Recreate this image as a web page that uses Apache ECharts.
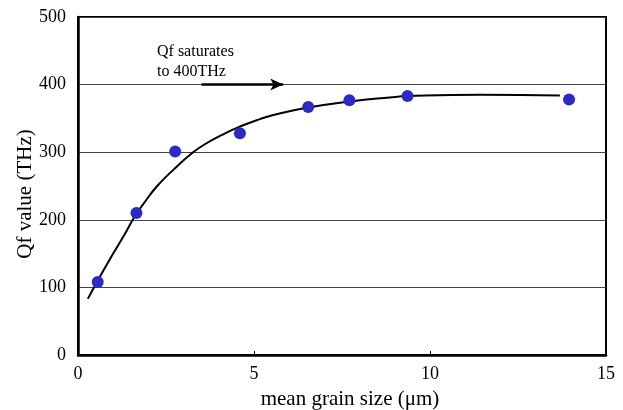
<!DOCTYPE html>
<html>
<head>
<meta charset="utf-8">
<script src="https://cdn.jsdelivr.net/npm/echarts@6/dist/echarts.min.js"></script>
<style>
  html, body { margin: 0; padding: 0; background: #fff; }
  #chart { width: 623px; height: 410px; }
</style>
</head>
<body>
<div id="chart"></div>
<script>
// Measured Qf values against mean grain size
const grainSize = [0.56, 1.66, 2.76, 4.60, 6.54, 7.71, 9.36, 13.95];
const qfValue   = [108, 210, 301, 328, 367, 377, 383, 378];

// Saturation trend curve through the measurements
const fitX = [0.28, 0.55, 0.93, 1.31, 1.59, 1.88, 2.25, 2.73, 3.2, 3.58, 4.22, 4.6, 5.17, 5.55, 6.54, 7.73, 8.86, 9.38, 11.42, 13.69];
const fitY = [83, 109, 144, 177, 203, 225, 250, 275, 297, 311, 329, 338, 349, 355, 366, 375, 381, 383, 385, 384];

// Arrow marking the saturation level
const arrowX = [3.51, 5.83];
const arrowLevel = 400;

const xTicks = [0, 5, 10, 15];
const yTicks = [0, 100, 200, 300, 400, 500];

const serif = '"Liberation Serif", "DejaVu Serif", serif';

const chart = echarts.init(document.getElementById('chart'));

chart.setOption({
  animation: false,
  backgroundColor: '#ffffff',
  grid: {
    left: 78, right: 17, top: 17, bottom: 55,
    outerBoundsMode: 'none',
    show: true,
    borderColor: '#000',
    borderWidth: 2
  },
  xAxis: {
    type: 'value',
    min: xTicks[0], max: xTicks[xTicks.length - 1], interval: 5,
    name: 'mean grain size (μm)',
    nameLocation: 'middle',
    nameGap: 34,
    nameMoveOverlap: false,
    nameTextStyle: { fontFamily: serif, fontSize: 21, color: '#000', padding: [0, 0, 0, 16] },
    axisLine: { show: true, lineStyle: { color: '#000', width: 2.5 } },
    axisTick: { show: true, inside: true, length: 4, lineStyle: { color: '#000', width: 1 } },
    axisLabel: { fontFamily: serif, fontSize: 18, color: '#000', margin: 10 },
    splitLine: { show: false }
  },
  yAxis: {
    type: 'value',
    min: yTicks[0], max: yTicks[yTicks.length - 1], interval: 100,
    name: 'Qf value (THz)',
    nameLocation: 'middle',
    nameGap: 42,
    nameMoveOverlap: false,
    nameRotate: 90,
    nameTextStyle: { fontFamily: serif, fontSize: 21, color: '#000', padding: [0, 16, 0, 0] },
    axisLine: { show: true, lineStyle: { color: '#000', width: 2.5 } },
    axisTick: { show: false },
    axisLabel: { fontFamily: serif, fontSize: 18, color: '#000', margin: 12 },
    splitLine: { show: true, lineStyle: { color: '#444', width: 1 } }
  },
  graphic: [{
    type: 'text',
    left: 157,
    top: 42,
    style: {
      text: 'Qf saturates\nto 400THz',
      font: '16px ' + serif,
      fill: '#000',
      lineHeight: 20
    }
  }],
  series: [
    {
      type: 'line',
      data: fitX.map((x, i) => [x, fitY[i]]),
      smooth: 0.5,
      showSymbol: false,
      lineStyle: { color: '#000', width: 2 },
      z: 2,
      markLine: {
        silent: true,
        symbol: ['none', 'arrow'],
        symbolSize: [9, 13],
        label: { show: false },
        lineStyle: { color: '#000', width: 2.5, type: 'solid' },
        data: [[{ coord: [arrowX[0], arrowLevel] }, { coord: [arrowX[1], arrowLevel] }]]
      }
    },
    {
      type: 'scatter',
      data: grainSize.map((x, i) => [x, qfValue[i]]),
      symbol: 'circle',
      symbolSize: 12,
      itemStyle: { color: '#2b2bc4', opacity: 1 },
      z: 3
    }
  ]
});
</script>
</body>
</html>
